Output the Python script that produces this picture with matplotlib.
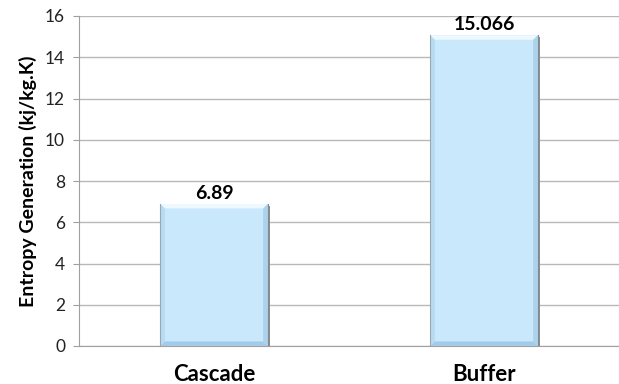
import matplotlib
matplotlib.use("Agg")
import matplotlib.pyplot as plt
from matplotlib.patches import Polygon

categories = ["Cascade", "Buffer"]
values = [6.89, 15.066]
value_labels = ["6.89", "15.066"]
yticks = [0, 2, 4, 6, 8, 10, 12, 14, 16]

plt.rcParams["font.family"] = ["Lato", "DejaVu Sans"]

fig = plt.figure(figsize=(6.19, 3.84), dpi=100)
ax = fig.add_axes([79 / 619, 1 - 346 / 384, 1 - 79 / 619, 330 / 384])

face = "#C9E8FC"
width = 0.4
x = list(range(len(categories)))
bars = ax.bar(x, values, width=width, color=face, edgecolor="none", zorder=3)

# bevelled edges around each bar
bx, by = 0.018, 0.22
for rect in bars:
    x0, y0 = rect.get_x(), rect.get_y()
    x1, y1 = x0 + rect.get_width(), y0 + rect.get_height()
    # drop shadow on right / bottom
    ax.add_patch(Polygon([(x1, y1 - 0.1), (x1 + 0.008, y1 - 0.1), (x1 + 0.008, y0),
                          (x1, y0)], closed=True, color="#8E8E8E", lw=0, zorder=2))
    top = [(x0, y1), (x1, y1), (x1 - bx, y1 - by), (x0 + bx, y1 - by)]
    bottom = [(x0, y0), (x1, y0), (x1 - bx, y0 + by), (x0 + bx, y0 + by)]
    left = [(x0, y0), (x0, y1), (x0 + bx, y1 - by), (x0 + bx, y0 + by)]
    right = [(x1, y0), (x1, y1), (x1 - bx, y1 - by), (x1 - bx, y0 + by)]
    ax.add_patch(Polygon(top, closed=True, color="#EEF8FF", lw=0, zorder=4))
    ax.add_patch(Polygon(bottom, closed=True, color="#A3CAE8", lw=0, zorder=4))
    ax.add_patch(Polygon(left, closed=True, color="#B8DBF2", lw=0, zorder=4))
    ax.add_patch(Polygon(right, closed=True, color="#ADD2EC", lw=0, zorder=4))
    ax.plot([x0, x0], [y0, y1], color="#9AA8B2", lw=0.8, zorder=5)
    ax.plot([x1, x1], [y0, y1], color="#7F8A92", lw=0.8, zorder=5)

for xi, v, lab in zip(x, values, value_labels):
    ax.text(xi, v + 0.1, lab, ha="center", va="bottom", fontsize=14,
            fontweight="bold", color="#000000", zorder=6)

ax.set_xlim(-0.5, 1.5)
ax.set_ylim(0, 16)
ax.set_yticks(yticks)
ax.set_yticklabels([str(t) for t in yticks], fontsize=12.5, color="#222222")
ax.set_xticks(x)
ax.set_xticklabels(categories, fontsize=16, fontweight="bold")
ax.tick_params(axis="x", length=0, pad=13)
ax.tick_params(axis="y", length=4, color="#A0A0A0", width=0.8, pad=6)
ax.grid(axis="y", color="#B8B8B8", lw=1.0, zorder=0)
ax.set_axisbelow(True)
for s in ["top", "right"]:
    ax.spines[s].set_visible(False)
ax.spines["left"].set_color("#A0A0A0")
ax.spines["bottom"].set_color("#A0A0A0")
ax.set_ylabel("Entropy Generation (kj/kg.K)", fontsize=14, fontweight="bold", labelpad=6)

fig.savefig("out.png", dpi=100)
